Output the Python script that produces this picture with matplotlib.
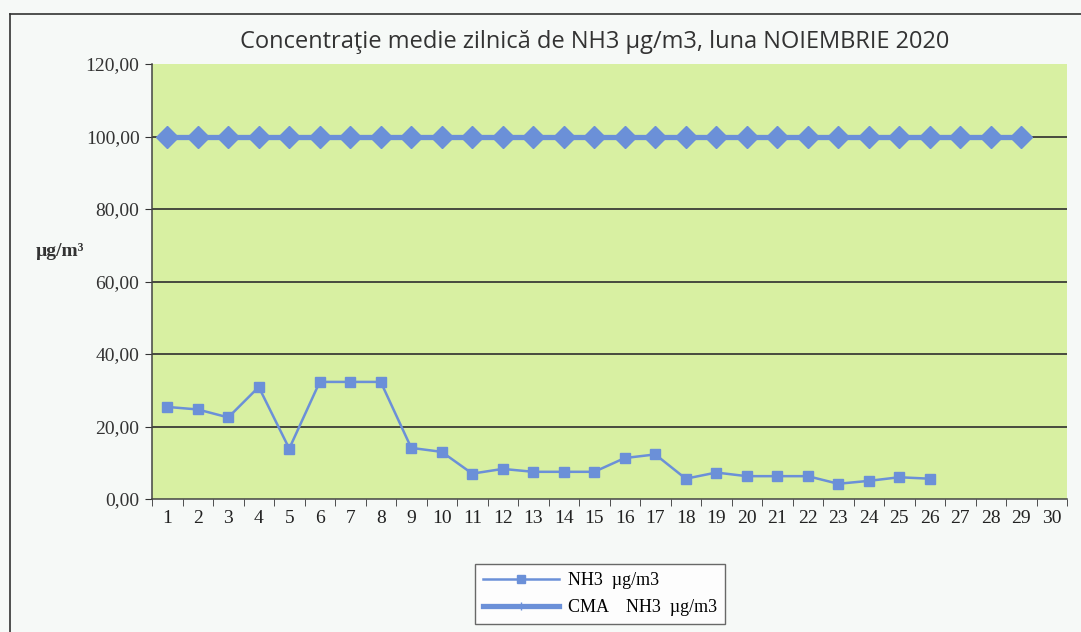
import matplotlib
matplotlib.use("Agg")
import matplotlib.pyplot as plt
from matplotlib.lines import Line2D

days = list(range(1, 31))
nh3_days = list(range(1, 27))
nh3_values = [25.4, 24.7, 22.5, 30.9, 13.9, 32.3, 32.3, 32.3, 14.1, 13.0,
              7.0, 8.3, 7.5, 7.5, 7.5, 11.3, 12.3, 5.6, 7.3, 6.3,
              6.3, 6.3, 4.2, 5.0, 6.0, 5.6]
cma_days = list(range(1, 30))
cma_values = [100.0] * 29
yticks = [0, 20, 40, 60, 80, 100, 120]
ytick_labels = ["0,00", "20,00", "40,00", "60,00", "80,00", "100,00", "120,00"]

title = "Concentraţie medie zilnică de NH3 µg/m3, luna NOIEMBRIE 2020"
ylabel = "µg/m³"
legend_labels = ["NH3  µg/m3", "CMA    NH3  µg/m3"]

blue = "#6b90d8"
serif = ["Liberation Serif", "DejaVu Serif"]

fig = plt.figure(figsize=(10.81, 6.32), dpi=100)
fig.patch.set_facecolor("#f6f9f7")

# outer chart frame (top & left visible)
fig.add_artist(Line2D([10/1081, 10/1081], [0, 1 - 14/632], color="#333333", lw=1.2, transform=fig.transFigure))
fig.add_artist(Line2D([10/1081, 1], [1 - 14/632, 1 - 14/632], color="#333333", lw=1.2, transform=fig.transFigure))

ax = fig.add_axes([152/1081, 1 - 499/632, (1067 - 152)/1081, (499 - 64)/632])
ax.set_facecolor("#d8f0a2")

ax.set_xlim(0.5, 30.5)
ax.set_ylim(0, 120)
ax.set_yticks(yticks)
ax.set_yticklabels(ytick_labels, fontfamily=serif, fontsize=14, color="#333333")
ax.set_xticks(days)
ax.set_xticklabels([str(d) for d in days], fontfamily=serif, fontsize=14, color="#222222")
ax.set_xticks([d + 0.5 for d in range(0, 31)], minor=True)
ax.tick_params(axis="x", which="major", length=0, pad=8)
ax.tick_params(axis="x", which="minor", length=5, direction="out", color="#333333")
ax.tick_params(axis="y", length=5, direction="out", color="#333333", pad=4)

for y in yticks[1:-1]:
    ax.axhline(y, color="#2e2e2e", lw=1.2, zorder=1)

for s in ["top", "right"]:
    ax.spines[s].set_visible(False)
for s in ["left", "bottom"]:
    ax.spines[s].set_color("#444444")
    ax.spines[s].set_linewidth(1.1)

ax.plot(cma_days, cma_values, color=blue, lw=3.8, marker="D", markersize=11,
        markeredgecolor=blue, zorder=3, label=legend_labels[1])
ax.plot(nh3_days, nh3_values, color=blue, lw=1.8, marker="s", markersize=6.5,
        markeredgecolor=blue, zorder=4, label=legend_labels[0])

fig.text(595/1081, 1 - 42/632, title, ha="center", va="center",
         fontfamily=["Open Sans", "DejaVu Sans"], fontsize=17, color="#333333")
fig.text(60/1081, 1 - 252/632, ylabel, ha="center", va="center",
         fontfamily=serif, fontsize=14, fontweight="bold", color="#333333")

h1 = Line2D([], [], color=blue, lw=1.8, marker="s", markersize=6)
h2 = Line2D([], [], color=blue, lw=3.8, marker="|", markersize=6)
leg = fig.legend([h1, h2], legend_labels, loc="center",
                 bbox_to_anchor=(600/1081, 1 - 594/632), frameon=True,
                 prop={"family": serif, "size": 13}, handlelength=4.2,
                 borderpad=0.45, labelspacing=0.55, fancybox=False,
                 borderaxespad=0, handletextpad=0.5)
leg.get_frame().set_edgecolor("#444444")
leg.get_frame().set_facecolor("white")
leg.get_frame().set_linewidth(1.0)

fig.savefig("out.png", dpi=100, facecolor=fig.get_facecolor())
